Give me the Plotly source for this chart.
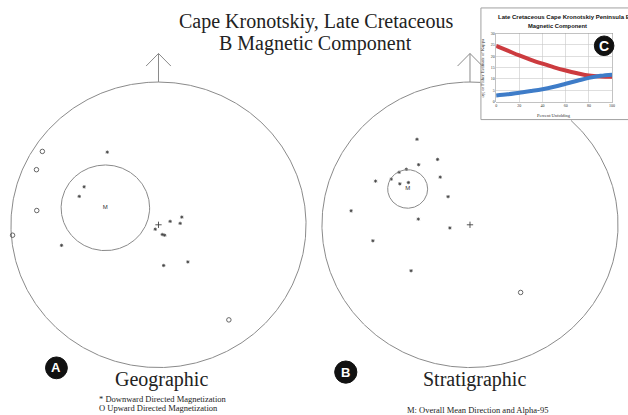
import numpy as np
import plotly.graph_objects as go

W, H = 628, 415

# ---------------- data (equal-area net coordinates, net radius = 1; east, north) ----------------
geo_down_e = [-0.347, -0.504, -0.537, -0.657, -0.022, 0.079, 0.158, 0.147, 0.026, 0.042, 0.035, 0.199]
geo_down_n = [0.509, 0.266, 0.199, -0.144, -0.031, 0.024, 0.054, 0.010, -0.068, -0.073, -0.285, -0.260]
geo_up_e = [-0.787, -0.827, -0.825, -0.989, 0.477]
geo_up_n = [0.514, 0.386, 0.100, -0.073, -0.666]
geo_mean = [-0.360, 0.119]
geo_a95 = 0.30

strat_down_e = [-0.358, -0.219, -0.347, -0.430, -0.479, -0.532, -0.638, -0.474, -0.416, -0.201,
                -0.148, -0.803, -0.349, -0.136, -0.656, -0.398]
strat_down_n = [0.599, 0.458, 0.421, 0.389, 0.368, 0.320, 0.306, 0.287, 0.296, 0.334,
                0.197, 0.098, 0.040, -0.022, -0.112, -0.322]
strat_up_e = [0.342]
strat_up_n = [-0.474]
strat_mean = [-0.421, 0.251]
strat_a95 = 0.135

# inset: fold test
unfold_pct = [0, 10, 20, 30, 40, 50, 60, 70, 80, 90, 100]
alpha95_curve = [24.5, 22.4, 20.3, 18.4, 16.7, 15.1, 13.7, 12.5, 11.5, 11.1, 11.0]
kappa_curve = [2.8, 3.3, 4.0, 4.7, 5.5, 6.6, 7.9, 9.2, 10.5, 11.4, 11.9]
inset_xticks = [0, 20, 40, 60, 80, 100]
inset_yticks = [0, 5, 10, 15, 20, 25, 30]

# ---------------- layout constants (pixels) ----------------
NETS = [
    dict(cx=158.5, cy=224.5, rx=148.5, ry=144.5, ax="x", ay="y",
         de=geo_down_e, dn=geo_down_n, ue=geo_up_e, un=geo_up_n, m=geo_mean, a=geo_a95),
    dict(cx=472.0, cy=224.5, rx=149.0, ry=144.5, ax="x2", ay="y2",
         de=strat_down_e, dn=strat_down_n, ue=strat_up_e, un=strat_up_n, m=strat_mean, a=strat_a95),
]
XR = [-1.04, 1.04]
YR = [-1.06, 1.25]
INSET_BOX = dict(x0=483, x1=640, y0=5, y1=118)  # pixels
GRAY = "#8a8a8a"
DARK = "#444444"

def px(x):
    return x / W

def py(y):
    return 1 - y / H

fig = go.Figure()
axes_layout = {}
th = np.linspace(0, 2 * np.pi, 721)

for i, n in enumerate(NETS):
    xa, ya = n["ax"], n["ay"]
    cxs = np.sin(th)
    cys = np.cos(th)
    if i == 1:
        ut = (INSET_BOX["x0"] - n["cx"]) / n["rx"]
        vt = (n["cy"] - INSET_BOX["y1"]) / n["ry"]
        hide = (cxs > ut) & (cys > vt)
        cxs = np.where(hide, np.nan, cxs)
        cys = np.where(hide, np.nan, cys)
    fig.add_trace(go.Scatter(x=cxs, y=cys, mode="lines", line=dict(color=GRAY, width=1),
                             xaxis=xa, yaxis=ya, hoverinfo="skip", connectgaps=False))
    fig.add_trace(go.Scatter(x=[0, 0, None, -0.084, 0, 0.084], y=[1.0, 1.2, None, 1.112, 1.2, 1.112],
                             mode="lines", line=dict(color=GRAY, width=1),
                             xaxis=xa, yaxis=ya, hoverinfo="skip"))
    fig.add_trace(go.Scatter(x=[0], y=[0], mode="markers",
                             marker=dict(symbol="cross-thin-open", size=4.5, color=DARK,
                                         line=dict(color=DARK, width=0.9)),
                             xaxis=xa, yaxis=ya, hoverinfo="skip"))
    fig.add_trace(go.Scatter(x=n["de"], y=n["dn"], mode="markers",
                             marker=dict(symbol="asterisk-open", size=2.8, color=DARK,
                                         line=dict(color=DARK, width=0.8)),
                             xaxis=xa, yaxis=ya))
    fig.add_trace(go.Scatter(x=n["ue"], y=n["un"], mode="markers",
                             marker=dict(symbol="circle-open", size=4.5, color="#555",
                                         line=dict(color="#555", width=0.9)),
                             xaxis=xa, yaxis=ya))
    fig.add_trace(go.Scatter(x=[n["m"][0]], y=[n["m"][1]], mode="text", text=["M"],
                             textfont=dict(size=6, color="#333", family="Liberation Sans"),
                             xaxis=xa, yaxis=ya))
    fig.add_trace(go.Scatter(x=n["m"][0] + n["a"] * np.cos(th), y=n["m"][1] + n["a"] * np.sin(th),
                             mode="lines", line=dict(color=GRAY, width=1),
                             xaxis=xa, yaxis=ya, hoverinfo="skip"))
    suffix = "" if i == 0 else "2"
    axes_layout["xaxis" + suffix] = dict(
        domain=[px(n["cx"] + XR[0] * n["rx"]), px(n["cx"] + XR[1] * n["rx"])],
        range=XR, visible=False, fixedrange=True, anchor="y" + suffix)
    axes_layout["yaxis" + suffix] = dict(
        domain=[py(n["cy"] - YR[0] * n["ry"]), py(n["cy"] - YR[1] * n["ry"])],
        range=YR, visible=False, fixedrange=True, anchor="x" + suffix)

fig.add_trace(go.Scatter(x=unfold_pct, y=alpha95_curve, mode="lines",
                         line=dict(color="#cc3b3f", width=4, shape="spline"), xaxis="x3", yaxis="y3"))
fig.add_trace(go.Scatter(x=unfold_pct, y=kappa_curve, mode="lines",
                         line=dict(color="#3e7cc8", width=4, shape="spline"), xaxis="x3", yaxis="y3"))

tickfont = dict(size=4, color="#333", family="Liberation Serif")
common3 = dict(tickfont=tickfont, showgrid=True, gridcolor="#c8c8c8", gridwidth=0.6, showline=True,
               linecolor="#999", linewidth=0.6, mirror=True, zeroline=False, ticks="", fixedrange=True)
axes_layout["xaxis3"] = dict(domain=[px(498.3), px(615)], range=[0, 100], anchor="y3",
                             tickvals=inset_xticks, **common3)
axes_layout["yaxis3"] = dict(domain=[py(100), py(30.7)], range=[0, 30], anchor="x3",
                             tickvals=inset_yticks, **common3)

shapes = [
    dict(type="rect", xref="paper", yref="paper", x0=px(INSET_BOX["x0"]), x1=px(INSET_BOX["x1"]),
         y0=py(INSET_BOX["y1"]), y1=py(INSET_BOX["y0"]), fillcolor="white",
         line=dict(color="#a0a0a0", width=1), layer="below"),
]
badges = [("A", 55.8, 369.3, 10.9, 13), ("B", 347.0, 373.6, 11.1, 13), ("C", 607.0, 43.3, 9.8, 14)]
annotations = []
for lab, bx, by, r, fs in badges:
    shapes.append(dict(type="circle", xref="paper", yref="paper", xsizemode="pixel", ysizemode="pixel",
                       xanchor=px(bx), yanchor=py(by), x0=-r, x1=r, y0=-r, y1=r,
                       fillcolor="#111", line=dict(color="#111", width=1), layer="above"))
    annotations.append(dict(text="<b>%s</b>" % lab, x=px(bx), y=py(by), xref="paper", yref="paper",
                            showarrow=False, font=dict(size=fs, color="white", family="Liberation Sans"),
                            xanchor="center", yanchor="middle"))

serif = "Liberation Serif"
def txt(t, x, y, size, xanchor="center", family=serif, color="#222", angle=0):
    annotations.append(dict(text=t, x=px(x), y=py(y), xref="paper", yref="paper", showarrow=False,
                            font=dict(size=size, color=color, family=family), xanchor=xanchor,
                            yanchor="middle", textangle=angle))

txt("Cape Kronotskiy, Late Cretaceous", 316.7, 19, 20)
txt("B Magnetic Component", 316.7, 41, 20)
txt("Geographic", 161.7, 381, 20)
txt("Stratigraphic", 476.2, 381.5, 20)
txt("* Downward Directed Magnetization", 96.7, 400.5, 8.5, xanchor="left")
txt("O Upward Directed Magnetization", 96.7, 409.8, 8.5, xanchor="left")
txt("M: Overall Mean Direction and Alpha-95", 479.3, 411.5, 8.5)
txt("<b>Late Cretaceous Cape Kronotskiy Peninsula B</b>", 498.3, 14.3, 6, xanchor="left",
    family="Liberation Sans", color="#111")
txt("<b>Magnetic Component</b>", 560.5, 22.9, 5.8, family="Liberation Sans", color="#111")
txt("Percent Unfolding", 556.7, 114.3, 4.5, color="#333")
txt("α<sub>95</sub> or Fisher Estimate of Kappa", 485.5, 66, 4.6, color="#333", angle=-90)

fig.update_layout(
    width=W, height=H, autosize=False,
    margin=dict(l=0, r=0, t=0, b=0),
    paper_bgcolor="white", plot_bgcolor="rgba(0,0,0,0)",
    showlegend=False, hovermode=False,
    shapes=shapes, annotations=annotations,
    **axes_layout,
)
fig.write_html("out.html", config={"displayModeBar": False, "staticPlot": True},
               post_script="document.body.style.margin='0px';document.body.style.overflow='hidden';")
